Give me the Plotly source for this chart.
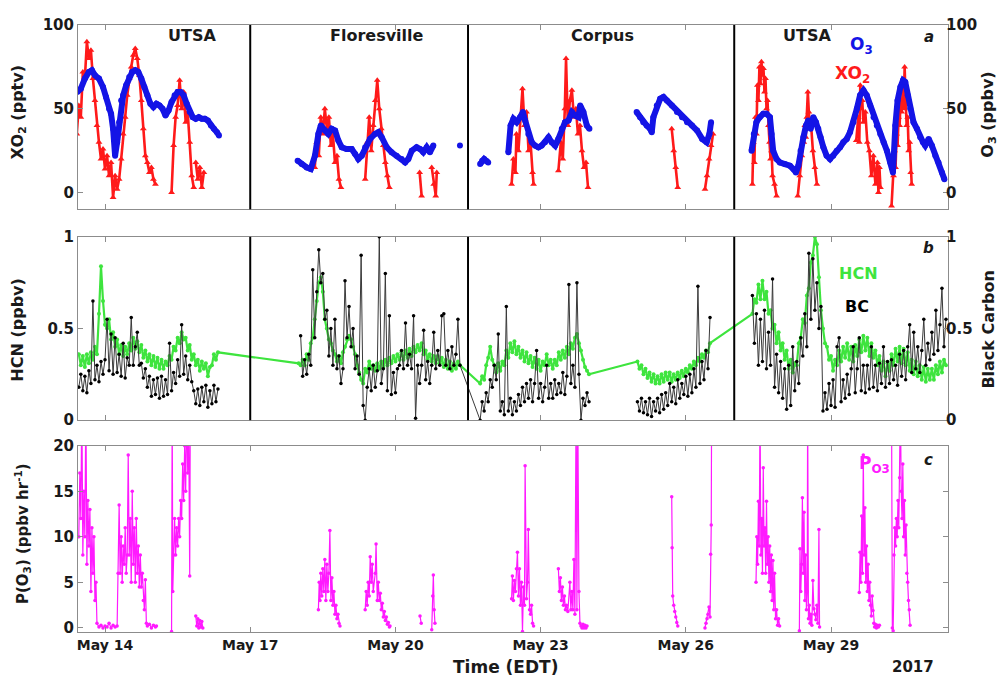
import plotly.graph_objects as go
import pandas as pd

# ---------------- DATA (hours since 2017-05-13 00:00 EDT) ----------------
BASE = pd.Timestamp("2017-05-13 00:00")

# Panel a: XO2 (pptv), None marks a gap
xo2_hours = [10, 11, 12, 13, 14, 15, 16, 17, 18, 19, 20, 21, 22, 23, 24, 25, 26, 27, 28, 29,
             30, 31, 32, 33, 34, 35, 36, 37, 38, 39, 40, 41, 42, 43, 44, 45, 46, 47, 48, 49, None,
             57, 58, 59, 60, 61, 62, 63, 64, 65, 66, 67, 68, None,
             69, 70, 71, 72, 73, None,
             128, 129, 130, 131, 132, 133, 134, 135, 136, 137, 138, 139, 140, 141, None,
             153, 154, 155, 156, 157, 158, 159, 160, 161, 162, 163, 164, 165, None,
             180, 181, None, 186, 187, 188, 188.5, None,
             225.6, 226.5, 227.5, 228, 229, 230, 231, 232, 233, 234, 235, 236, 236.5, None,
             248.8, 250, 251, 252, 252.6, 253.5, 254.5, 255.5, 256.5, 257.5, 258.5, 259.5, 260.5, 261.5, 262.5, 263.5, None,
             305, 306, 307, 308, None,
             321.5, 322.5, 323.5, 324.5, 325.5, None,
             345, 345.5, 346, 346.5, 347, 347.5, 348, 348.5, 349, 349.5, 350, 350.5, 351, 351.5, 352, 352.5, 353, 353.5, 354, 354.5, 355, 356, 357, None,
             367.5, 368.5, 369.5, 370.5, 371, 371.5, 372, 372.5, 373, 373.5, 374, 375, 376, 377, None,
             396.5, 397.5, 398, 398.5, 399, 399.5, 400, 401, 402, 403, 404, 405, 406, 407, 407.5, 408, 408.5, None,
             414, 415, 415.5, 416, 416.5, 417, 417.5, 418, 418.5, 419, 419.5, 420, 420.5, 421, 421.5, 422, 422.5, 423, 423.5, 424]
xo2_vals = [35, 52, 45, 72, 68, 90, 80, 85, 68, 55, 40, 30, 20, 26, 14, 22, 10, 18, -3, 10,
            2, 8, 20, 35, 45, 58, 68, 75, 82, 86, 80, 70, 55, 38, 22, 18, 12, 15, 8, 5, None,
            0, 28, 45, 52, 67, 50, 60, 42, 48, 30, 10, 3, None,
            18, 8, 15, 3, 12, None,
            15, 30, 22, 45, 35, 50, 38, 45, 28, 35, 18, 22, 8, 3, None,
            8, 30, 45, 25, 40, 55, 67, 50, 38, 28, 18, 10, 3, None,
            12, -2, None, 15, 5, -2, 12, None,
            5, 20, 12, 35, 25, 45, 62, 40, 48, 25, 30, 12, 5, None,
            13, 30, 20, 50, 80, 40, 55, 61, 45, 50, 35, 40, 25, 15, 18, 3, None,
            38, 25, 15, 3, None,
            2, 10, 20, 28, 35, None,
            5, 30, 18, 45, 35, 64, 55, 75, 65, 78, 70, 74, 60, 68, 50, 55, 40, 30, 20, 25, 10, 5, -2, None,
            -2, 10, 22, 30, 40, 33, 45, 60, 48, 38, 42, 25, 15, 5, None,
            31, 45, 30, 64, 50, 55, 42, 48, 30, 25, 10, 22, 5, 18, 0, 15, 3, None,
            -8, 10, 25, 15, 35, 28, 45, 40, 55, 48, 60, 50, 75, 55, 40, 45, 25, 30, 12, 5]

# Panel a: O3 (ppbv)
o3_hours = [10.3, 12, 14, 16, 17.5, 19, 21, 23, 24.5, 26, 27, 28, 29, 30, 31, 32, 33, 34.5, 36, 37.5,
            39, 40.5, 42, 43.5, 45, 46.5, 48, 49.5, 51, 52.5, 54, 55.5, 57, 58.5, 60, 61.5, 63, 64.5, 66, 67.5,
            69, 70.5, 72, 73.5, 75, 76.5, 78, 79.5, 80.5, None,
            119.5, 121.5, 124, 126, 128.1, 129.8, 131, 133.1, 134.7, 136.4, 138.1, 139.7, 141.4, 143.8, 146.3, 148,
            149.6, 151.3, 153, 155.4, 157.9, 159.5, 161.2, 163.7, 166.1, 168.6, 171.1, 172.8, 174.4, 176.1, 178.5,
            180.2, 181.8, 183.5, 185.1, 186.8, None,
            200, None,
            210, 211, 212, 213, 214, None,
            224, 225.1, 226.5, 228.1, 229.8, 231.2, 232.3, 233.9, 235.6, 237.2, 238.9, 240.5, 242.2, 243.9, 245.5,
            247.2, 248.8, 250.5, 252.1, 253.8, 255.5, 257.1, 258.8, 259.6, 261.2, 262.9, 264.2, None,
            287.6, 289.3, 290.9, 292.6, 294.3, 295.1, 295.9, 297.6, 299.3, 300.9, 302.6, 305.1, 307.6, 310.1, 312.6,
            315.1, 317.6, 320.1, 322.3, 323.7, 324.5, None,
            344.6, 345.7, 347, 348.7, 350.4, 352, 353.7, 354.5, 355.3, 357, 358.6, 361.1, 363.6, 365.3, 366.6, 367.8,
            368.9, 370.3, 371.6, 372.7, 373.9, 375.2, 376.5, 377.7, 378.8, 380.2, 381.8, 383.5, 385.1, 386.8, 388.5,
            390.1, 391.8, 393.4, 395.1, 396.8, 398.4, 400.1, 401.7, 403.4, 405.1, 406.7, 408.4, 410.1, 411.7, 413.4,
            414.7, 415.9, 417, 418.4, 419.7, 420.8, 422, 423.3, 424.9, 426.6, 428.2, 429.6, 430.7, 432.4, 434, 435.7,
            437.3, 439, 440.2]
o3_vals = [60, 62, 68, 72, 73, 70, 68, 63, 57, 50, 47, 38, 22, 30, 42, 55, 58, 64, 69, 72,
           73, 72, 68, 63, 58, 53, 51, 53, 52, 50, 46, 49, 54, 58, 60, 60, 58, 53, 48, 45,
           44, 45, 44, 44, 43, 40, 38, 36, 34, None,
           19, 17, 15, 14, 22, 35, 40, 37, 35, 38, 37, 31, 27, 26, 26, 23,
           20, 22, 27, 32, 35, 36, 33, 27, 24, 22, 20, 18, 20, 25, 27,
           26, 24, 27, 24, 28, None,
           28, None,
           17, 19, 20, 19, 18, None,
           24, 40, 44, 42, 45, 48, 43, 35, 30, 28, 27, 28, 30, 33, 30,
           28, 32, 38, 42, 43, 48, 46, 45, 52, 48, 40, 38, None,
           48, 45, 42, 40, 38, 36, 45, 52, 56, 57, 55, 52, 48, 45, 42,
           40, 37, 32, 30, 35, 42, None,
           25, 35, 42, 45, 47, 47, 45, 35, 25, 20, 18, 17, 16, 14, 12, 16,
           25, 33, 40, 43, 38, 45, 42, 38, 33, 27, 22, 20, 22, 25, 27,
           30, 32, 36, 42, 50, 58, 61, 58, 52, 45, 40, 35, 30, 25, 18,
           12, 40, 55, 63, 67, 66, 58, 50, 42, 38, 33, 30, 28, 32, 28, 22,
           18, 12, 8]

# Panel b: HCN (ppbv), hourly segments (start hour, values); all connected
hcn_utsa1_start = 11
hcn_utsa1 = [0.36, 0.30, 0.35, 0.29, 0.36, 0.31, 0.37, 0.33, 0.40, 0.36,
             0.58, 0.84, 0.65, 0.52, 0.50, 0.55, 0.44, 0.48, 0.40, 0.44,
             0.36, 0.41, 0.35, 0.40, 0.36, 0.42, 0.38, 0.45, 0.39, 0.43,
             0.37, 0.41, 0.34, 0.38, 0.32, 0.36, 0.30, 0.35, 0.29, 0.34,
             0.28, 0.33, 0.28, 0.32, 0.30, 0.35, 0.33, 0.40, 0.38, 0.45,
             0.42, 0.48, 0.44, 0.45, 0.38, 0.41, 0.33, 0.36, 0.30, 0.33,
             0.27, 0.32, 0.28, 0.31, 0.24, 0.29, 0.30, 0.36, 0.33, 0.37]
hcn_flores_start = 120
hcn_flores = [0.31, 0.30, 0.33, 0.30, 0.36, 0.33, 0.42, 0.45, 0.55, 0.65,
              0.75, 0.78, 0.70, 0.55, 0.50, 0.44, 0.42, 0.38, 0.36, 0.32,
              0.35, 0.31, 0.37, 0.40, 0.44, 0.46, 0.44, 0.40, 0.36, 0.30,
              0.26, 0.22, 0.20, 0.28, 0.26, 0.32, 0.28, 0.30, 0.27, 0.31,
              0.28, 0.32, 0.29, 0.33, 0.30, 0.34, 0.31, 0.35, 0.32, 0.36,
              0.33, 0.37, 0.33, 0.38, 0.34, 0.39, 0.35, 0.40, 0.37, 0.41,
              0.38, 0.42, 0.36, 0.38, 0.33, 0.36, 0.32, 0.35, 0.31, 0.35,
              0.31, 0.34, 0.29, 0.33, 0.28, 0.32, 0.27, 0.31, 0.28, 0.32,
              0.30]
hcn_corpus1_start = 210
hcn_corpus1 = [0.20, 0.24, 0.22, 0.30, 0.34, 0.40, 0.33, 0.30, 0.26, 0.31,
               0.27, 0.32, 0.30, 0.38, 0.34, 0.42, 0.37, 0.43, 0.36, 0.40,
               0.34, 0.38, 0.32, 0.37, 0.31, 0.35, 0.29, 0.34, 0.28, 0.33,
               0.27, 0.32, 0.30, 0.36, 0.30, 0.33, 0.28, 0.33, 0.30, 0.37,
               0.33, 0.38, 0.34, 0.40, 0.36, 0.42, 0.39, 0.45, 0.47, 0.42,
               0.38, 0.33, 0.29, 0.27, 0.25]
hcn_corpus2_start = 288
hcn_corpus2 = [0.32, 0.28, 0.30, 0.25, 0.28, 0.23, 0.26, 0.21, 0.25, 0.20,
               0.24, 0.20, 0.25, 0.21, 0.26, 0.22, 0.26, 0.21, 0.25, 0.22,
               0.26, 0.23, 0.27, 0.24, 0.28, 0.26, 0.30, 0.28, 0.32, 0.30,
               0.34, 0.32, 0.36, 0.34, 0.38, 0.37, 0.42]
hcn_utsa2_start = 345
hcn_utsa2 = [0.58, 0.66, 0.64, 0.74, 0.66, 0.76, 0.66, 0.70, 0.58, 0.60,
             0.50, 0.52, 0.42, 0.48, 0.38, 0.42, 0.33, 0.38, 0.28, 0.33,
             0.26, 0.31, 0.30, 0.42, 0.45, 0.55, 0.53, 0.68, 0.72, 0.86,
             0.90, 1.00, 0.96, 0.78, 0.60, 0.50, 0.42, 0.40, 0.33, 0.35,
             0.27, 0.33, 0.30, 0.38, 0.32, 0.40, 0.34, 0.42, 0.33, 0.40,
             0.32, 0.41, 0.35, 0.44, 0.37, 0.46, 0.38, 0.45, 0.35, 0.42,
             0.34, 0.38, 0.30, 0.35, 0.27, 0.32, 0.24, 0.31, 0.27, 0.36,
             0.30, 0.39, 0.32, 0.40, 0.31, 0.39, 0.30, 0.37, 0.27, 0.33,
             0.25, 0.32, 0.24, 0.30, 0.22, 0.29, 0.21, 0.28, 0.22, 0.28,
             0.22, 0.30, 0.25, 0.32, 0.26, 0.33, 0.30]

# Panel b: Black carbon, hourly segments
bc_utsa1_start = 11
bc_utsa1 = [0.18, 0.25, 0.16, 0.24, 0.15, 0.27, 0.20, 0.65, 0.22, 0.30,
            0.21, 0.32, 0.25, 0.33, 0.55, 0.27, 0.47, 0.25, 0.45, 0.26,
            0.36, 0.24, 0.42, 0.23, 0.34, 0.30, 0.56, 0.30, 0.40, 0.48,
            0.30, 0.31, 0.23, 0.28, 0.18, 0.24, 0.13, 0.22, 0.14, 0.23,
            0.12, 0.24, 0.13, 0.22, 0.14, 0.42, 0.16, 0.26, 0.20, 0.33,
            0.24, 0.52, 0.25, 0.35, 0.22, 0.30, 0.21, 0.16, 0.09, 0.17,
            0.08, 0.18, 0.10, 0.19, 0.07, 0.16, 0.09, 0.19, 0.10, 0.17]
bc_flores_start = 121
bc_flores = [0.46, 0.24, 0.33, 0.25, 0.36, 0.30, 0.82, 0.45, 0.70, 0.93,
             0.75, 0.80, 0.55, 0.60, 0.35, 0.50, 0.30, 0.55, 0.28, 0.35,
             0.20, 0.28, 0.76, 0.45, 0.62, 0.40, 0.50, 0.28, 0.35, 0.25,
             0.90, 0.08, 0.00, 0.18, 0.28, 0.16, 0.30, 0.18, 0.27, 1.00,
             0.20, 0.28, 0.80, 0.16, 0.57, 0.14, 0.26, 0.15, 0.28, 0.30,
             0.38, 0.28, 0.53, 0.30, 0.36, 0.28, 0.57, 0.01, 0.30, 0.20,
             0.30, 0.49, 0.22, 0.32, 0.20, 0.30, 0.48, 0.28, 0.38, 0.30,
             0.57, 0.58, 0.30, 0.38, 0.28, 0.40, 0.30, 0.36, 0.55, 0.30]
bc_corpus1_start = 210
bc_corpus1 = [0.00, 0.10, 0.05, 0.15, 0.10, 0.22, 0.18, 0.30, 0.22, 0.47,
              0.05, 0.10, 0.03, 0.62, 0.05, 0.12, 0.03, 0.10, 0.05, 0.14,
              0.08, 0.18, 0.10, 0.20, 0.12, 0.22, 0.10, 0.20, 0.38, 0.12,
              0.20, 0.10, 0.18, 0.30, 0.12, 0.20, 0.12, 0.22, 0.14, 0.20,
              0.15, 0.26, 0.14, 0.24, 0.74, 0.20, 0.30, 0.18, 0.75, 0.25,
              0.00, 0.12, 0.08, 0.15, 0.10]
bc_corpus2_start = 288
bc_corpus2 = [0.10, 0.05, 0.12, 0.04, 0.10, 0.03, 0.12, 0.02, 0.10, 0.05,
              0.12, 0.04, 0.14, 0.06, 0.15, 0.08, 0.20, 0.10, 0.18, 0.09,
              0.22, 0.12, 0.20, 0.14, 0.24, 0.13, 0.25, 0.15, 0.28, 0.18,
              0.73, 0.20, 0.32, 0.22, 0.38, 0.28, 0.56]
bc_utsa2_start = 345
bc_utsa2 = [0.68, 0.42, 0.58, 0.30, 0.55, 0.32, 0.60, 0.28, 0.48, 0.30,
            0.77, 0.18, 0.36, 0.15, 0.32, 0.12, 0.28, 0.06, 0.30, 0.08,
            0.40, 0.16, 0.32, 0.20, 0.45, 0.35, 0.58, 0.40, 0.91, 0.55,
            0.88, 0.60, 0.75, 0.50, 0.62, 0.05, 0.15, 0.06, 0.20, 0.08,
            0.22, 0.07, 0.40, 0.45, 0.10, 0.22, 0.12, 0.25, 0.14, 0.28,
            0.40, 0.15, 0.28, 0.45, 0.16, 0.30, 0.15, 0.30, 0.17, 0.40,
            0.18, 0.30, 0.16, 0.31, 0.20, 0.40, 0.18, 0.32, 0.20, 0.33,
            0.22, 0.30, 0.19, 0.36, 0.24, 0.38, 0.22, 0.40, 0.52, 0.26,
            0.48, 0.28, 0.40, 0.26, 0.38, 0.55, 0.30, 0.42, 0.33, 0.48,
            0.36, 0.60, 0.38, 0.52, 0.72, 0.40, 0.55]

# Panel c: P(O3) (ppbv/hr), None marks a gap
po3_hours = [11, 11.5, 12, 12.5, 13, 13.5, 14, 14.5, 15, 15.5, 16, 16.5, 17, 17.5, 18, 18.5, 19, 19.5, 20,
             21, 22, 23, 24, 25, 26, 27, 28, 29, 30,
             30.5, 31, 31.5, 32, 32.5, 33, 33.5, 34, 34.5, 35, 35.5, 36, 36.5, 37, 37.5, 38, 38.5, 39, 39.5,
             40, 40.5, 41, 41.5, 42, 42.5, 43, 43.5, 44, 44.5,
             45, 46, 47, 48, 49, 49.5, None,
             57, 57.3, 57.6, 58, 58.5, 59, 59.5, 60, 60.5, 61, 61.5, 62, 62.5, 63, 63.5, 64, 64.5, 65, 65.5, 66, 66.3, None,
             69, 69.5, 70, 70.5, 71, 71.5, 72, 72.5, None,
             129.8, 130.2, 130.6, 131, 131.5, 132, 132.5, 133, 133.5, 134, 134.5, 135, 135.5, 136, 136.5, 137,
             137.5, 138, 138.5, 139, 139.5, 140, 140.5, None,
             153, 153.5, 154, 154.5, 155, 155.5, 156, 156.5, 157, 158, 158.4, 159, 159.5, 160, 160.5, 161, 161.5,
             162, 162.5, 163, 163.5, 164, 164.5, 165, 165.3, None,
             180.2, 180.8, None,
             186, 186.5, 186.8, 187.2, 187.6, None,
             225.6, 226, 226.5, 227, 227.5, 228, 228.5, 229, 229.5, 230, 230.5, 231, 231.5, 232, 232.3, 233, 233.5,
             233.9, 234.5, 235, 235.5, 236, 236.5, None,
             248.8, 249.3, 249.8, 250.3, 250.8, 251.3, 251.8, 252.3, 252.8, 253.5, 254.5, 255, 255.5, 256, 256.5,
             257, 257.6, 258, 258.4, 259, 259.5, 260, 260.5, 261, 261.5, 262, 262.5, 263, None,
             305, 305.2, 305.5, 306, 306.5, 307, 307.5, 308, None,
             321.5, 322, 322.5, 323, 323.5, 324, 324.3, 324.6, 324.8, None,
             346.8, 347.2, 347.6, 348, 348.4, 348.8, 349.2, 349.6, 350, 350.4, 350.8, 351.2, 351.6, 352, 352.4,
             352.8, 353.2, 353.6, 354, 354.4, 354.8, 355.2, 355.6, 356, 356.5, 357, 357.5, 358, 358.5, None,
             368.3, 368.6, 369, 369.4, 369.8, 370.2, 370.6, 371, 371.4, 371.8, 372.2, 372.4, 372.8, 373.2, 373.6,
             374, 374.5, 375, 375.5, 376, 376.5, 377, 377.5, 378, 378.3, None,
             398, 398.4, 398.8, 399.2, 399.6, 400, 400.4, 400.8, 401.2, 401.6, 402, 402.4, 402.8, 403.2, 403.6,
             404, 404.4, 404.8, 405.2, 405.6, 406, 406.5, 407, 407.5, 408, None,
             414, 414.4, 414.8, 415.2, 415.6, 416, 416.4, 416.8, 417.2, 417.6, 418, 418.4, 418.8, 419.2, 419.6,
             420, 420.4, 420.8, 421.2, 421.6, 422, 422.4, 422.8, 423.2]
po3_vals = [10, 17, 12, 25, 8, 15, 10, 25, 7, 14, 9, 13, 4, 11, 6, 10, 3, 5, 0.5,
            0.1, 0.3, 0, 0.2, 0.1, 0.5, 0, 0.3, 0.1, 0.2,
            6, 13.5, 6, 10, 5, 9, 7, 11, 6, 8, 19, 8, 12, 5, 15, 7, 11, 5, 12,
            6, 9, 4.5, 8, 4.5, 6, 3, 2, 5.3, 0.5,
            0.2, 0.4, 0, 0.3, 0.1, 0.2, None,
            -0.4, 25, 4, 8, 12, 8, 11, 9, 12, 10, 14, 12, 18, 14, 20, 15, 25, 17, 22, 5.7, 25, None,
            1.3, 0.2, 1, 0, 0.8, 0.1, 0.7, 0, None,
            2, 5, 3, 6, 3.5, 6.5, 4, 7.5, 3, 7, 4, 6, 10.7, 3, 5.5, 2.5,
            4, 1.5, 2.5, 1, 1.5, 0.5, 0.2, None,
            2, 4, 2.5, 5, 3.5, 7.8, 5, 7, 4, 6, 9.2, 3, 5, 3, 3.8, 2, 2.7,
            1.2, 1.8, 0.8, 1.2, 0.4, 0.6, 0.1, 0.2, None,
            1.3, 0.5, None,
            -0.2, 3.5, 5.8, 2, 0.5, None,
            3.2, 5.7, 3, 5.2, 4, 6.5, 8.3, 3.5, 6.5, 2.5, 5, -0.4, 4.5, 2.5, 17.8, 3.2, 5,
            10.8, 2, 1.5, 2.5, 0.5, 0.2, None,
            6.5, 4, 5.5, 3, 4.5, 2.5, 3.5, 2, 2.5, 1.8, 5, 2, 4, 2, 7.5,
            1.5, 25, 2, 25, 4, 0.5, 0.2, 0, 0.4, 0, 0.3, 0, 0.2, None,
            14.4, 8.8, 3.5, 2.5, 1.8, 1.2, 0.6, 0.2, None,
            0, 0.5, 1, 1.5, 2.3, 1.2, 8.1, 11.3, 25, None,
            5, 10, 7, 13.9, 9, 25, 8, 12, 6, 17.6, 9, 11, 6, 13.9, 7,
            10, 5, 9, 4, 8, 3, 7.4, 2, 6, 1, 2, 0.3, 1, 0.2, None,
            -0.3, 8.7, 4, 7, 14.3, 6, 12.7, 3, 8, 2, 4, 25, 1, 2.5, 0.5,
            1.5, 0.3, 5.2, 2.1, 1.5, 0.9, 2.5, 0.5, 10.8, 0.1, None,
            3.9, 8.3, 5, 12.3, 6, 19, 8, 13.2, 5, 9, 4, 7, 3, 5, 2.5,
            1.3, 3.5, 1.9, 0.5, 0.1, 0.4, 0, 0.3, 0.1, 0.3, None,
            25, 0, -0.3, 8, 11, 9, 12, 10, 14, 11, 16.5, 25, 15, 12, 18,
            10, 14, 8, 11.3, 6, 5, 3, 2, 0.3]

site_names = ["UTSA", "Floresville", "Corpus", "UTSA"]
site_label_hours = [67, 159, 270.5, 372]     # label centres (hours)
site_boundaries = [96, 204, 336]            # hours
tick_dates = ["2017-05-14", "2017-05-17", "2017-05-20", "2017-05-23", "2017-05-26", "2017-05-29"]

# ---------------- helpers ----------------
def ts(h):
    if h is None:
        return None
    return (BASE + pd.Timedelta(hours=h)).strftime("%Y-%m-%d %H:%M:%S")

def times(hours):
    return [ts(h) for h in hours]

def hourly(segs, connect):
    xs, ys = [], []
    for i, (s, v) in enumerate(segs):
        xs += [ts(s + k) for k in range(len(v))]
        ys += list(v)
        if i < len(segs) - 1 and not connect[i]:
            xs.append(None)
            ys.append(None)
    return xs, ys

FONT = "DejaVu Sans"
TXT = "#1a1a1a"
AX = "#8c8c8c"
RED = "#ff1a1a"
BLUE = "#1414e6"
GREEN = "#3ee43e"
MAG = "#ff1aff"

fig = go.Figure()

# Panel a
fig.add_trace(go.Scatter(x=times(xo2_hours), y=xo2_vals, mode="lines+markers", xaxis="x", yaxis="y",
                         line=dict(color=RED, width=2.6),
                         marker=dict(symbol="triangle-up", size=6, color=RED), showlegend=False))
fig.add_trace(go.Scatter(x=times(o3_hours), y=o3_vals, mode="lines+markers", xaxis="x", yaxis="y2",
                         line=dict(color=BLUE, width=6),
                         marker=dict(size=6, color=BLUE), showlegend=False))

# Panel b
hx, hy = hourly([(hcn_utsa1_start, hcn_utsa1), (hcn_flores_start, hcn_flores),
                 (hcn_corpus1_start, hcn_corpus1), (hcn_corpus2_start, hcn_corpus2),
                 (hcn_utsa2_start, hcn_utsa2)], [True, True, True, True])
fig.add_trace(go.Scatter(x=hx, y=hy, mode="lines+markers", xaxis="x2", yaxis="y3",
                         line=dict(color=GREEN, width=2.2),
                         marker=dict(size=4, color=GREEN), showlegend=False))
bx, by = hourly([(bc_utsa1_start, bc_utsa1), (bc_flores_start, bc_flores),
                 (bc_corpus1_start, bc_corpus1), (bc_corpus2_start, bc_corpus2),
                 (bc_utsa2_start, bc_utsa2)], [False, True, False, False])
fig.add_trace(go.Scatter(x=bx, y=by, mode="lines+markers", xaxis="x2", yaxis="y4",
                         line=dict(color="#3a3a3a", width=1.0),
                         marker=dict(size=3.5, color="#000000"), showlegend=False))

# Panel c
fig.add_trace(go.Scatter(x=times(po3_hours), y=po3_vals, mode="lines+markers", xaxis="x3", yaxis="y5",
                         line=dict(color=MAG, width=1.2),
                         marker=dict(size=3.5, color=MAG), showlegend=False))

xr = [ts(10.6), ts(442)]
tickfont = dict(family=FONT, size=15, color=TXT, weight="bold")
xtickfont = dict(family=FONT, size=14, color=TXT, weight="bold")
common_x = dict(type="date", range=xr, tickvals=tick_dates, tickformat="%b %d", ticks="inside",
                ticklen=5, tickcolor=AX, showline=True, linecolor=AX, linewidth=1, mirror="ticks",
                showgrid=False, zeroline=False, tickfont=xtickfont)
common_y = dict(ticks="inside", ticklen=5, tickcolor=AX, showline=True, linecolor=AX, linewidth=1,
                showgrid=False, zeroline=False, tickfont=tickfont)

dom_a = [0.6964, 1.0]
dom_b = [0.349, 0.651]
dom_c = [0.0, 0.3068]

# the page body adds an 8 px offset, so the figure is 8 px smaller and shifted
fig.update_layout(
    width=997, height=673,
    margin=dict(l=70, r=57, t=8, b=49),
    paper_bgcolor="white", plot_bgcolor="white",
    xaxis=dict(common_x, anchor="y", domain=[0, 1], showticklabels=False),
    xaxis2=dict(common_x, anchor="y3", domain=[0, 1], showticklabels=False),
    xaxis3=dict(common_x, anchor="y5", domain=[0, 1], showticklabels=True),
    yaxis=dict(common_y, domain=dom_a, range=[-10, 100], tickvals=[0, 50, 100], anchor="x"),
    yaxis2=dict(common_y, domain=dom_a, range=[-10, 100], tickvals=[0, 50, 100], overlaying="y",
                side="right", anchor="x", ticklabelstandoff=-6),
    yaxis3=dict(common_y, domain=dom_b, range=[0, 1], tickvals=[0, 0.5, 1], ticktext=["0", "0.5", "1"],
                anchor="x2"),
    yaxis4=dict(common_y, domain=dom_b, range=[0, 1], tickvals=[0, 0.5, 1], ticktext=["0", "0.5", "1"],
                overlaying="y3", side="right", anchor="x2", ticklabelstandoff=-6),
    yaxis5=dict(common_y, domain=dom_c, range=[-0.45, 20], tickvals=[0, 5, 10, 15, 20], mirror="ticks",
                anchor="x3"),
)

# site separators (panels a and b)
shapes = []
for hb in site_boundaries:
    for xref, yref in [("x", "y domain"), ("x2", "y3 domain")]:
        shapes.append(dict(type="line", xref=xref, yref=yref,
                           x0=ts(hb), x1=ts(hb), y0=0, y1=1, line=dict(color="black", width=2)))
fig.update_layout(shapes=shapes)

def ann(text, x, y, size=15, color=TXT, xref="paper", yref="paper", angle=0, italic=False,
        xanchor="center", yanchor="middle"):
    fig.add_annotation(text=text, x=x, y=y, xref=xref, yref=yref, showarrow=False, textangle=angle,
                       xanchor=xanchor, yanchor=yanchor,
                       font=dict(family=FONT, size=size, color=color, weight="bold",
                                 style="italic" if italic else "normal"))

# site labels
for name, hc in zip(site_names, site_label_hours):
    ann(name, ts(hc), 0.982, size=16, xref="x")

ann("O<sub>3</sub>", 0.900, 0.966, size=17, color=BLUE)
ann("XO<sub>2</sub>", 0.890, 0.918, size=17, color=RED)
ann("a", 0.978, 0.981, size=15, italic=True)
ann("HCN", 0.897, 0.591, size=16, color=GREEN)
ann("BC", 0.895, 0.536, size=16, color="#000000")
ann("b", 0.978, 0.633, size=15, italic=True)
ann("P<sub>O3</sub>", 0.915, 0.276, size=17, color=MAG)
ann("c", 0.978, 0.284, size=15, italic=True)

# axis titles
ann("XO<sub>2</sub> (pptv)", -0.069, 0.856, size=16, angle=-90)
ann("O<sub>3</sub> (ppbv)", 1.047, 0.852, size=16, angle=-90)
ann("HCN (ppbv)", -0.069, 0.498, size=16, angle=-90)
ann("Black Carbon", 1.047, 0.498, size=16, angle=-90)
ann("P(O<sub>3</sub>) (ppbv hr<sup>-1</sup>)", -0.064, 0.162, size=15, angle=-90)
ann("Time (EDT)", 0.491, -0.058, size=17)
ann("2017", 0.960, -0.058, size=15)

fig.write_html("out.html")
